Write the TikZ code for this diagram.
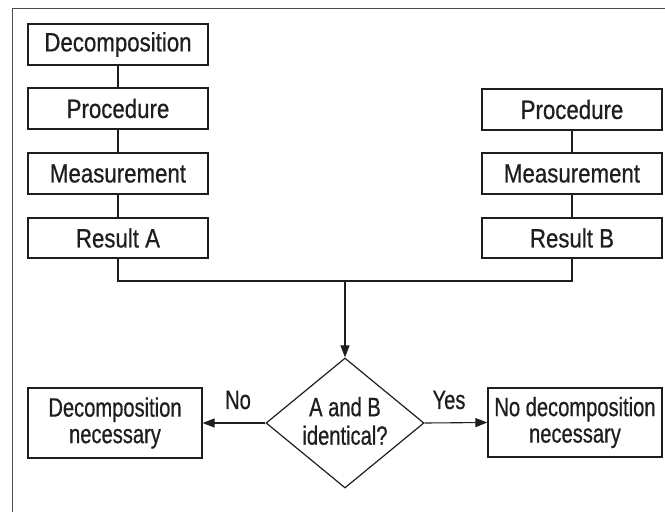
\documentclass[tikz,border=0pt]{standalone}
\usepackage{fontspec}
\setmainfont{Liberation Sans}
\newfontfamily\topf[FakeStretch=0.84,FakeBold=0.6]{Liberation Sans}
\newfontfamily\botf[FakeStretch=0.76,FakeBold=0.6]{Liberation Sans}
\usetikzlibrary{shapes.geometric,arrows.meta}
\definecolor{ink}{HTML}{1E1E1E}
\tikzset{
  stepbox/.style={draw=ink, line width=1.2pt, inner sep=0pt, minimum width=180pt, minimum height=41pt, font=\topf\fontsize{26.5}{27}\selectfont, text=ink},
  endbox/.style={draw=ink, line width=1.2pt, inner sep=0pt, minimum width=174pt, minimum height=70pt, align=center, font=\botf\fontsize{26.5}{26.5}\selectfont, text=ink},
  conn/.style={draw=ink, line width=1.1pt},
  arr/.style={conn, -{Triangle[length=12pt,width=9pt]}},
  lbl/.style={inner sep=0pt, font=\botf\fontsize{26.5}{26.5}\selectfont, text=ink},
  frame/.style={draw=black!70, line width=1.6pt}
}
\begin{document}
\begin{tikzpicture}[x=1pt,y=-1pt]
\useasboundingbox (0,0) rectangle (665,512);
\draw[frame] (12.5,512) -- (12.5,8.5) -- (665,8.5);
% left column
\node[stepbox] (dec) at (118,44.5) {Decomposition};
\node[stepbox] (procA) at (118,108.5) {Procedure};
\node[stepbox] (measA) at (118,173.5) {Measurement};
\node[stepbox, minimum height=40pt] (resA) at (118,238) {Result A};
% right column
\node[stepbox] (procB) at (572,109.5) {Procedure};
\node[stepbox] (measB) at (572,173.5) {Measurement};
\node[stepbox, minimum height=40pt] (resB) at (572,238) {Result B};
% decision
\node[diamond, draw=ink, line width=1.2pt, inner sep=0pt, minimum width=158pt, minimum height=130pt] (q) at (345,423) {};
\node[lbl, align=center, font=\botf\fontsize{26.5}{28.5}\selectfont] (qt) at (345,421) {A and B\\identical?};
\node[endbox] (nec) at (115,423) {Decomposition\\necessary};
\node[endbox, minimum height=69pt] (nonec) at (575,422.5) {No decomposition\\necessary};
\node[lbl] (no) at (238,400) {No};
\node[lbl] (yes) at (449,400) {Yes};
% connectors
\draw[conn] (dec) -- (procA);
\draw[conn] (procA) -- (measA);
\draw[conn] (measA) -- (resA);
\draw[conn] (procB) -- (measB);
\draw[conn] (measB) -- (resB);
\coordinate (j) at (345,281);
\draw[conn] (resA.south) |- (j) -| (resB.south);
\draw[arr] (j) -- (q.north);
\draw[arr] (q.west) -- (nec.east);
\draw[arr] (q.east) -- (nonec.west);
\end{tikzpicture}
\end{document}
